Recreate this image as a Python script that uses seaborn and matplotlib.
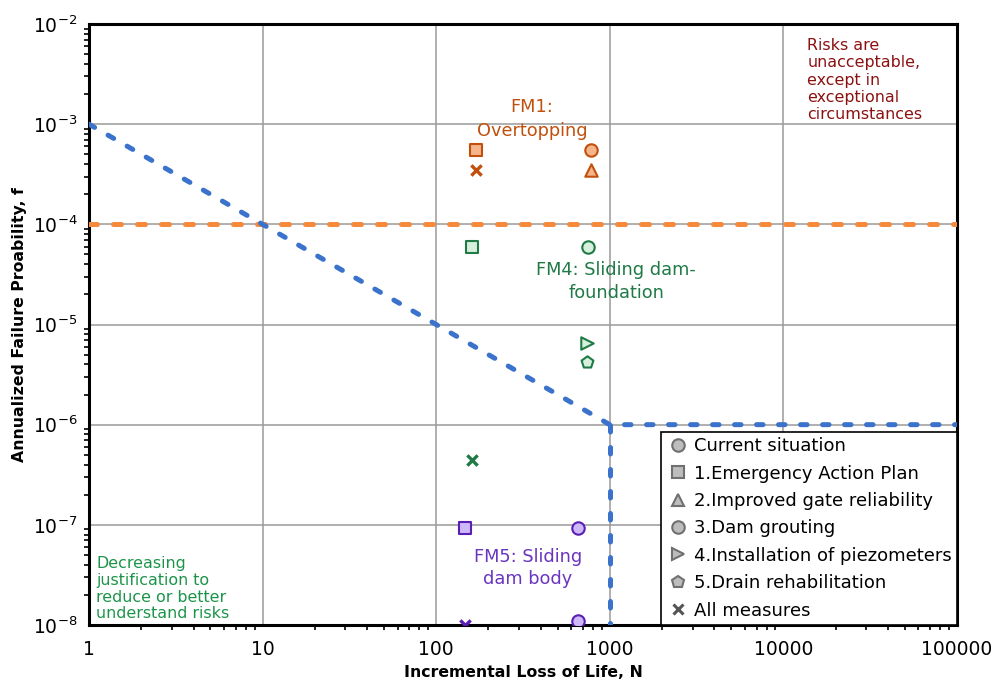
import numpy as np
import pandas as pd
import matplotlib
matplotlib.use("Agg")
import matplotlib.pyplot as plt
from matplotlib.lines import Line2D
import seaborn as sns

sns.set_style("white")
plt.rcParams['font.family'] = ['DejaVu Sans']
plt.rcParams['mathtext.default'] = 'regular'

# Risk points per failure mode: (N, f, measure)
fm1_n = [780, 169, 780, 169]
fm1_f = [5.5e-4, 5.5e-4, 3.5e-4, 3.5e-4]
fm1_m = ["Current situation", "1.Emergency Action Plan", "2.Improved gate reliability", "All measures"]

fm4_n = [749, 161, 740, 740, 161]
fm4_f = [6.0e-5, 6.0e-5, 6.5e-6, 4.2e-6, 4.4e-7]
fm4_m = ["Current situation", "1.Emergency Action Plan", "4.Installation of piezometers",
         "5.Drain rehabilitation", "All measures"]

fm5_n = [656, 147, 656, 147]
fm5_f = [9.3e-8, 9.3e-8, 1.1e-8, 1.0e-8]
fm5_m = ["Current situation", "1.Emergency Action Plan", "3.Dam grouting", "All measures"]

# Tolerability limit lines
limit_n = [1, 1000, 1000, 100000]
limit_f = [1e-3, 1e-6, 1e-6, 1e-6]
vert_n = [1000, 1000]
vert_f = [1e-6, 1e-8]
indiv_n = [1, 100000]
indiv_f = [1e-4, 1e-4]

measures = ["Current situation", "1.Emergency Action Plan", "2.Improved gate reliability",
            "3.Dam grouting", "4.Installation of piezometers", "5.Drain rehabilitation",
            "All measures"]
marker_map = {"Current situation": "o", "1.Emergency Action Plan": "s",
              "2.Improved gate reliability": "^", "3.Dam grouting": "o",
              "4.Installation of piezometers": ">", "5.Drain rehabilitation": "p",
              "All measures": "X"}

fig = plt.figure(figsize=(9.95, 6.84), dpi=100)
ax = fig.add_axes([89/995, 1-625/684, (957-89)/995, (625-24)/684])
ax.set_xscale("log")
ax.set_yscale("log")
ax.set_xlim(1, 100000)
ax.set_ylim(1e-8, 1e-2)

ax.grid(True, which="major", color="#9a9a9a", linewidth=1.1)
ax.set_axisbelow(True)

# Limit lines
sns.lineplot(x=indiv_n, y=indiv_f, ax=ax, color="#f58a3c", linewidth=3.6,
             estimator=None, sort=False, zorder=3)
ax.lines[-1].set_linestyle((0, (1.6, 3.2)))
for xs, ys in [(limit_n, limit_f), (vert_n, vert_f)]:
    sns.lineplot(x=xs, y=ys, ax=ax, color="#3a72cc", linewidth=3.6,
                 estimator=None, sort=False, zorder=3)
    ax.lines[-1].set_linestyle((0, (1.3, 3.1)))
for l in ax.lines:
    l.set_dash_capstyle("round")

modes = [
    (fm1_n, fm1_f, fm1_m, "#f6b48a", "#c0500c"),
    (fm4_n, fm4_f, fm4_m, "#d6f0dd", "#1f7a46"),
    (fm5_n, fm5_f, fm5_m, "#cdb9f7", "#5a1db5"),
]
for xs, ys, ms, fc, ec in modes:
    df = pd.DataFrame({"N": xs, "f": ys, "measure": ms})
    for m, sub in df.groupby("measure"):
        mk = marker_map[m]
        if mk == "X":
            sns.scatterplot(data=sub, x="N", y="f", ax=ax, marker="x", s=55,
                            color=ec, linewidth=2.4, zorder=5, legend=False)
        else:
            sns.scatterplot(data=sub, x="N", y="f", ax=ax, marker=mk, s=80,
                            color=fc, edgecolor=ec, linewidth=1.5, zorder=5, legend=False)

# Annotations
ax.text(356, 1.12e-3, "FM1:\nOvertopping", color="#c0500c", ha="center", va="center",
        fontsize=12.8, linespacing=1.4)
ax.text(1090, 2.7e-5, "FM4: Sliding dam-\nfoundation", color="#1f7a46", ha="center", va="center",
        fontsize=12.8, linespacing=1.33)
ax.text(338, 3.7e-8, "FM5: Sliding\ndam body", color="#6a35c0", ha="center", va="center",
        fontsize=12.8, linespacing=1.3)
ax.text(13700, 2.76e-3, "Risks are\nunacceptable,\nexcept in\nexceptional\ncircumstances",
        color="#8b1010", ha="left", va="center", fontsize=11.4, linespacing=1.2)
ax.text(1.1, 2.3e-8, "Decreasing\njustification to\nreduce or better\nunderstand risks",
        color="#1a9448", ha="left", va="center", fontsize=11.4, linespacing=1.15)

# Legend with neutral grey symbols
handles = []
for m in measures:
    mk = marker_map[m]
    if mk == "X":
        h = Line2D([], [], marker="x", linestyle="none", markersize=7,
                   markeredgecolor="#555555", markeredgewidth=2.2)
    else:
        h = Line2D([], [], marker=mk, linestyle="none", markersize=9,
                   markerfacecolor="#bdbdbd", markeredgecolor="#707070", markeredgewidth=1.5)
    handles.append(h)
leg = ax.legend(handles, measures, loc="lower right", fontsize=13, frameon=True,
                fancybox=False, edgecolor="black", framealpha=1, borderaxespad=0,
                handletextpad=0.3, labelspacing=0.52, handlelength=1.2,
                borderpad=0.3)
leg.get_frame().set_linewidth(1.2)
for t in leg.get_texts():
    t.set_color("black")
leg.set_zorder(10)

# Axes styling
for s in ax.spines.values():
    s.set_visible(True)
    s.set_color("black")
    s.set_linewidth(2.2)

ax.set_xticks([1, 10, 100, 1000, 10000, 100000])
ax.set_xticklabels(["1", "10", "100", "1000", "10000", "100000"])
ax.set_yticks([1e-8, 1e-7, 1e-6, 1e-5, 1e-4, 1e-3, 1e-2])
ax.set_yticklabels([r"10$^{-%d}$" % k for k in [8, 7, 6, 5, 4, 3, 2]])
ax.tick_params(axis="both", which="major", direction="out", length=5, width=1.5,
               labelsize=13.5, color="black", labelcolor="black")
ax.tick_params(axis="both", which="minor", direction="out", length=3.5, width=1.2,
               color="black", left=True, bottom=True)
ax.tick_params(axis="x", pad=6)

ax.set_xlabel("Incremental Loss of Life, N", fontsize=11.3, fontweight="bold", labelpad=4,
              color="black")
ax.set_ylabel("Annualized Failure Proability, f", fontsize=11.3, fontweight="bold", labelpad=4,
              color="black")

fig.savefig("out.png", dpi=100)
